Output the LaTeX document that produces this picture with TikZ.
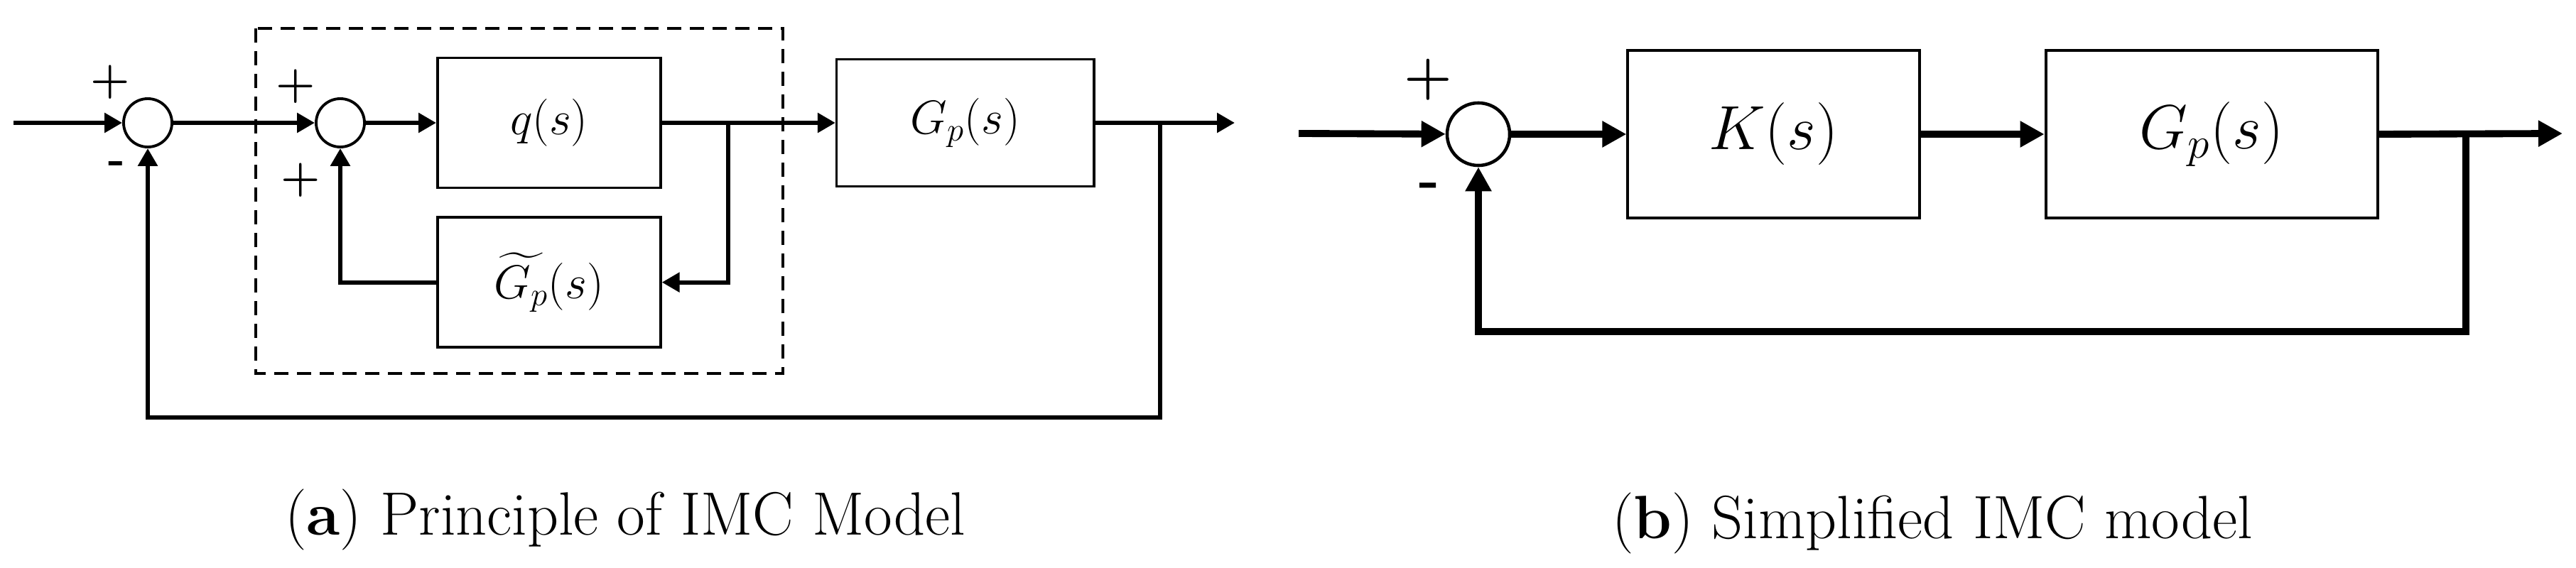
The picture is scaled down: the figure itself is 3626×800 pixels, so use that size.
\RequirePackage{fix-cm}
\documentclass[tikz,border=0pt]{standalone}
\usepackage{amsmath}
\usetikzlibrary{arrows.meta,positioning}

\begin{document}
\begin{tikzpicture}[
  x=0.01cm, y=-0.01cm,
  block/.style={draw, line width=1pt, inner sep=0pt, font=\fontsize{19}{22}\selectfont},
  bigblock/.style={draw, line width=1.1pt, inner sep=0pt, minimum width=4.1cm, minimum height=2.36cm, font=\fontsize{25}{29}\selectfont},
  sumpt/.style={draw, circle, line width=1.1pt, inner sep=0pt, minimum size=0.68cm},
  bigsum/.style={draw, circle, line width=1.3pt, inner sep=0pt, minimum size=0.88cm},
  sgn/.style={inner sep=0pt, font=\fontsize{18}{21}\selectfont\bfseries},
  bigsgn/.style={inner sep=0pt, font=\fontsize{22}{26}\selectfont\bfseries},
  sig/.style={-{Triangle[length=0.25cm,width=0.27cm]}, line width=1.7pt},
  bigsig/.style={-{Triangle[length=0.34cm,width=0.35cm]}, line width=2.8pt},
  dashbox/.style={line width=1.4pt, dash pattern=on 0.2cm off 0.12cm},
  subcap/.style={anchor=base, inner sep=0pt, font=\fontsize{24.5}{28}\selectfont}
]
  \useasboundingbox (0,0) rectangle (3626,800);

  % (a) principle of IMC
  \coordinate (inA) at (19,173);
  \node[sumpt] (sum1) at (208,173) {};
  \node[sgn] (s1p) at (155,116) {+};
  \node[sgn] (s1m) at (164,236) {-};
  \node[sumpt] (sum2) at (479,173) {};
  \node[sgn] (s2p) at (416,122) {+};
  \node[sgn] (s2q) at (423,254) {+};
  \node[block, minimum width=3.14cm, minimum height=1.83cm, right=0.99cm of sum2] (q) {$q(s)$};
  \node[block, minimum width=3.14cm, minimum height=1.83cm, below=0.38cm of q] (gt) {$\widetilde{G_p}(s)$};
  \node[block, minimum width=3.62cm, minimum height=1.79cm, right=2.44cm of q] (gp) {$G_p(s)$};
  \draw[dashbox] (360,40) rectangle (1102,526);
  \coordinate (brA) at (1025,173);
  \coordinate (fbA) at (1633,173);
  \coordinate (outA) at (1738,173);

  \draw[sig] (inA) -- (sum1);
  \draw[sig] (sum1) -- (sum2);
  \draw[sig] (sum2) -- (q);
  \draw[sig] (q) -- (gp);
  \draw[sig] (brA) |- (gt.east);
  \draw[sig] (gt.west) -| (sum2.south);
  \draw[sig] (gp.east) -- (outA);
  \draw[sig] (fbA) -- ++(0,415) -| (sum1.south);

  % (b) simplified IMC
  \coordinate (inB) at (1828,188);
  \node[bigsum] (sum3) at (2081,189) {};
  \node[bigsgn] (s3p) at (2010,112) {+};
  \node[bigsgn] (s3m) at (2012,268) {-};
  \node[bigblock, right=1.62cm of sum3] (k) {$K(s)$};
  \node[bigblock, minimum width=4.67cm, right=1.74cm of k] (gp2) {$G_p(s)$};
  \coordinate (fbB) at (3471,188);
  \coordinate (outB) at (3607,188);

  \draw[bigsig] (inB) -- (sum3);
  \draw[bigsig] (sum3) -- (k);
  \draw[bigsig] (k) -- (gp2);
  \draw[bigsig] (gp2.east) -- (outB);
  \draw[bigsig] (fbB) -- ++(0,279) -| (sum3.south);

  \node[subcap] (capA) at (880,753) {(\textbf{a}) Principle of IMC Model};
  \node[subcap] (capB) at (2720,758) {(\textbf{b}) Simplified IMC model};
\end{tikzpicture}
\end{document}
